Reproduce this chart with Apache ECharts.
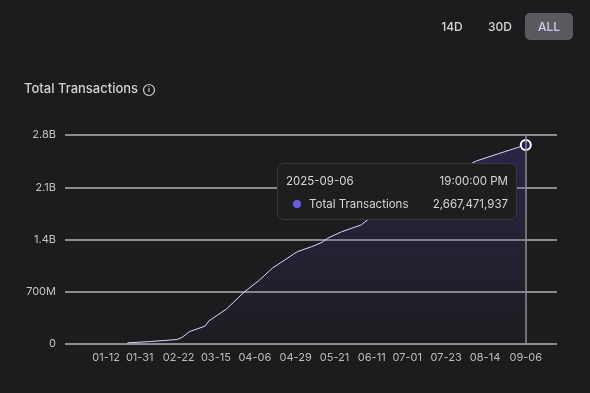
<!DOCTYPE html>
<html>
<head>
<meta charset="utf-8">
<script src="https://cdn.jsdelivr.net/npm/echarts@6/dist/echarts.min.js"></script>
<style>
html,body{margin:0;padding:0;background:#1c1c1e;}
#chart{width:590px;height:393px;}
</style>
</head>
<body>
<div id="chart"></div>
<script>
// Data
const dates = ['2025-01-24','2025-02-06','2025-02-21','2025-02-24','2025-02-28','2025-03-09','2025-03-11','2025-03-21','2025-03-31','2025-04-08','2025-04-16','2025-04-30','2025-05-08','2025-05-14','2025-05-17','2025-05-25','2025-06-05','2025-06-09','2025-06-25','2025-07-10','2025-07-25','2025-08-09','2025-08-21','2025-08-25','2025-09-06'];
const totalTransactions = [15e6,33e6,60e6,90e6,165e6,241e6,308e6,469e6,697e6,844e6,1018e6,1237e6,1303e6,1362e6,1416e6,1504e6,1594e6,1670e6,1870e6,2060e6,2260e6,2452e6,2545e6,2576e6,2667471937];
const xTickDates = ['2025-01-12','2025-01-31','2025-02-22','2025-03-15','2025-04-06','2025-04-29','2025-05-21','2025-06-11','2025-07-01','2025-07-23','2025-08-14','2025-09-06'];
const yTicks = [0, 700e6, 1.4e9, 2.1e9, 2.8e9];
const yTickLabels = ['0','700M','1.4B','2.1B','2.8B'];
const rangeButtons = ['14D','30D','ALL'];
const seriesName = 'Total Transactions';

function ts(s){ const p=s.split('-').map(Number); return Date.UTC(p[0],p[1]-1,p[2],19,0,0); }
function pad(n){ return (n<10?'0':'')+n; }

const seriesData = dates.map((d,i)=>[ts(d), totalTransactions[i]]);

const chart = echarts.init(document.getElementById('chart'), null, {renderer:'canvas'});
const FONT = 'Inter, "Noto Sans", sans-serif';

const option = {
  backgroundColor: '#1c1c1e',
  animation: false,
  grid: {left: 65, right: 33, top: 135, bottom: 49, containLabel: false},
  xAxis: {
    type: 'value',
    min: Date.UTC(2024,11,20,14),
    max: Date.UTC(2025,8,24,10),
    axisLine: {show: false},
    axisTick: {show: false},
    splitLine: {show: false},
    axisLabel: {
      customValues: xTickDates.map(ts),
      color: '#bdbdbd', fontSize: 11, fontFamily: FONT, margin: 8,
      hideOverlap: false, showMinLabel: true, showMaxLabel: true,
      formatter: function(v){ const d=new Date(v); return pad(d.getUTCMonth()+1)+'-'+pad(d.getUTCDate()); }
    },
    axisPointer: {
      show: true, type: 'line', label: {show: false},
      lineStyle: {color: '#8e8e8e', width: 1.5, type: 'solid'}
    }
  },
  yAxis: {
    type: 'value',
    min: yTicks[0], max: yTicks[yTicks.length-1], interval: yTicks[1]-yTicks[0],
    axisLine: {show: false},
    axisTick: {show: false},
    axisLabel: {
      color: '#c4c4c4', fontSize: 11, fontFamily: FONT, margin: 9,
      formatter: function(v){ const i = yTicks.indexOf(v); return i>=0 ? yTickLabels[i] : ''; }
    },
    splitLine: {lineStyle: {color: '#8c8c8c', width: 2}}
  },
  tooltip: {
    trigger: 'axis',
    triggerOn: 'none',
    alwaysShowContent: true,
    transitionDuration: 0,
    showDelay: 0,
    position: [277, 163],
    backgroundColor: '#1e1e20',
    borderColor: '#38383a',
    borderWidth: 1,
    padding: 0,
    extraCssText: 'box-shadow:none;border-radius:7px;',
    formatter: function(params){
      const p = params[0];
      const d = new Date(p.value[0]);
      const ds = d.getUTCFullYear()+'-'+pad(d.getUTCMonth()+1)+'-'+pad(d.getUTCDate());
      const ts2 = pad(d.getUTCHours())+':'+pad(d.getUTCMinutes())+':'+pad(d.getUTCSeconds())+' '+(d.getUTCHours()>=12?'PM':'AM');
      const val = Math.round(p.value[1]).toLocaleString('en-US');
      const st = 'font-family:'+FONT.replace(/"/g,"'")+';font-size:11.5px;color:#d6d6d6;line-height:14px;';
      return '<div style="width:222px;padding:10px 8px 8px 8px;'+st+'">'+
        '<div style="display:flex;justify-content:space-between;"><span>'+ds+'</span><span>'+ts2+'</span></div>'+
        '<div style="display:flex;justify-content:space-between;margin-top:9px;">'+
        '<span style="display:flex;align-items:center;padding-left:7px;"><span style="display:inline-block;width:8px;height:8px;border-radius:4px;background:#6b5be0;margin-right:8px;"></span>'+p.seriesName+'</span>'+
        '<span>'+val+'</span></div></div>';
    }
  },
  series: [{
    name: seriesName,
    type: 'line',
    data: seriesData,
    showSymbol: false,
    symbol: 'circle',
    symbolSize: 10,
    itemStyle: {color: '#231e66', borderColor: '#ffffff', borderWidth: 2},
    lineStyle: {color: '#c9c2ea', width: 1},
    emphasis: {scale: false, lineStyle: {width: 1}},
    areaStyle: {
      color: new echarts.graphic.LinearGradient(0,0,0,1,[
        {offset: 0, color: 'rgba(70,55,150,0.42)'},
        {offset: 1, color: 'rgba(70,55,150,0.03)'}
      ])
    }
  }],
  graphic: [
    {type:'text', left: 24, top: 83, style:{text:'Total Transactions', fill:'#d2d2d2', font:'500 13px '+FONT}},
    {type:'circle', shape:{cx:149, cy:90, r:5.5}, style:{fill:'none', stroke:'#cfcfcf', lineWidth:1.2}},
    {type:'text', x:149, y:90, style:{text:'i', fill:'#cfcfcf', font:'bold 7px '+FONT, align:'center', verticalAlign:'middle'}},
    {type:'rect', shape:{x:525, y:13, width:48, height:27, r:5}, style:{fill:'#5a5a5e'}},
    {type:'text', x:452, y:27, style:{text:rangeButtons[0], fill:'#d6d6d6', font:'500 12px '+FONT, align:'center', verticalAlign:'middle'}},
    {type:'text', x:500, y:27, style:{text:rangeButtons[1], fill:'#d6d6d6', font:'500 12px '+FONT, align:'center', verticalAlign:'middle'}},
    {type:'text', x:549, y:27, style:{text:rangeButtons[2], fill:'#d0c9f7', font:'500 12px '+FONT, align:'center', verticalAlign:'middle'}}
  ]
};
chart.setOption(option);
chart.dispatchAction({type:'showTip', seriesIndex:0, dataIndex: seriesData.length-1});
</script>
</body>
</html>
